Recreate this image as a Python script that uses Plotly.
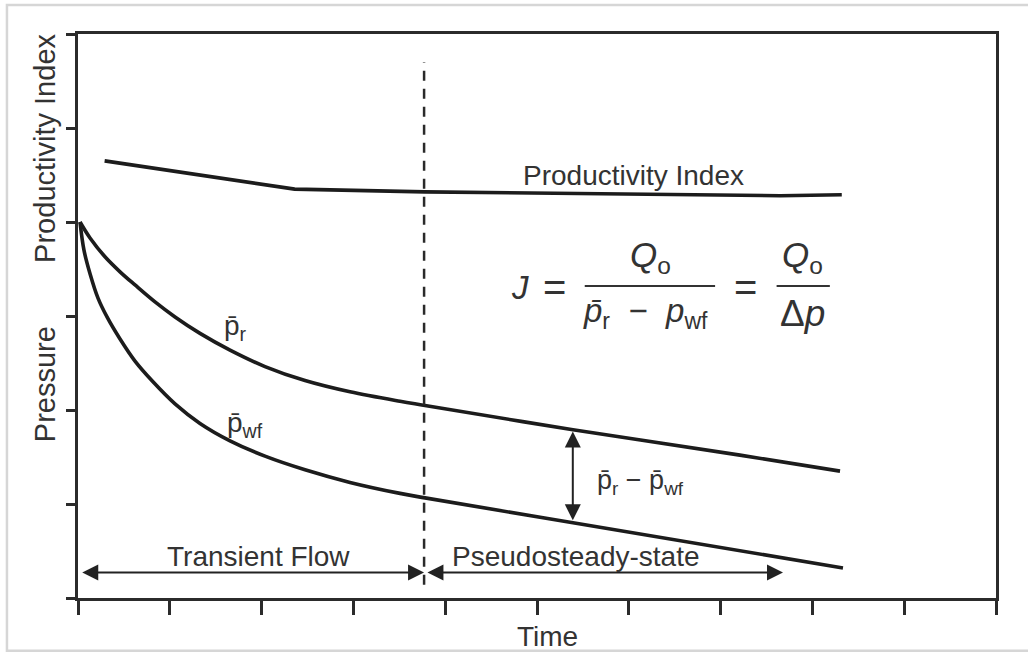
import plotly.graph_objects as go

# ---- data ----
pi_time = [0.29, 2.36, 3.78, 5.69, 7.65, 8.32]
pi_vals = [4.65, 4.35, 4.32, 4.30, 4.28, 4.29]

pr_time = [0.022, 0.131, 0.294, 0.458, 0.621, 0.839, 1.057, 1.329, 1.656, 2.037,
           2.473, 2.963, 3.508, 3.780, 5.392, 7.211, 8.301]
pr_vals = [4.00, 3.83, 3.63, 3.47, 3.33, 3.15, 2.99, 2.815, 2.637, 2.462,
           2.313, 2.193, 2.092, 2.048, 1.79, 1.52, 1.35]

pwf_time = [0.022, 0.065, 0.131, 0.218, 0.316, 0.458, 0.621, 0.817, 1.057, 1.329,
            1.656, 2.037, 2.473, 2.963, 3.508, 3.780, 5.392, 8.333]
pwf_vals = [4.00, 3.70, 3.45, 3.19, 2.99, 2.755, 2.52, 2.30, 2.065, 1.857,
            1.672, 1.509, 1.364, 1.230, 1.113, 1.065, 0.80, 0.32]

x_ticks = list(range(0, 11))
y_ticks = list(range(0, 7))

boundary_time = 3.77          # transient / pseudosteady-state boundary
dash_range = [0.14, 5.70]
transient_span = [0.03, 3.77]
pss_span = [3.79, 7.68]
flow_arrow_y = 0.27
dp_arrow_x = 5.39
dp_arrow_span = [0.81, 1.77]

INK = "#1c1c1c"
TXT = "#333333"
FONT = "Liberation Sans, Arial, sans-serif"

fig = go.Figure()
fig.add_trace(go.Scatter(x=pi_time, y=pi_vals, mode="lines",
                         line=dict(color=INK, width=3.6), hoverinfo="skip"))
fig.add_trace(go.Scatter(x=pr_time, y=pr_vals, mode="lines",
                         line=dict(color=INK, width=3.6, shape="spline", smoothing=1.0),
                         hoverinfo="skip"))
fig.add_trace(go.Scatter(x=pwf_time, y=pwf_vals, mode="lines",
                         line=dict(color=INK, width=3.6, shape="spline", smoothing=1.0),
                         hoverinfo="skip"))

shapes = []
# dashed boundary
shapes.append(dict(type="line", xref="x", yref="y", x0=boundary_time, x1=boundary_time,
                   y0=dash_range[0], y1=dash_range[1],
                   line=dict(color="#2a2a2a", width=2.5, dash="10px,8px")))
# fraction bars of the formula
shapes.append(dict(type="line", xref="x", yref="y", x0=5.52, x1=6.94, y0=3.32, y1=3.32,
                   line=dict(color="#333", width=2)))
shapes.append(dict(type="line", xref="x", yref="y", x0=7.61, x1=8.19, y0=3.32, y1=3.32,
                   line=dict(color="#333", width=2)))
# light outer frame of the picture
shapes.append(dict(type="rect", xref="paper", yref="paper",
                   x0=-0.0774, x1=1.05, y0=-0.0935, y1=1.0514,
                   line=dict(color="#d6d6d6", width=2.5), layer="below"))

annotations = []

def arrow(x0, y0, x1, y1):
    annotations.append(dict(x=x1, y=y1, ax=x0, ay=y0, xref="x", yref="y",
                            axref="x", ayref="y", text="", showarrow=True,
                            arrowhead=2, arrowside="end+start", arrowsize=1.6,
                            arrowwidth=2, arrowcolor="#222", standoff=0, startstandoff=0))

arrow(transient_span[0], flow_arrow_y, transient_span[1], flow_arrow_y)
arrow(pss_span[0], flow_arrow_y, pss_span[1], flow_arrow_y)
arrow(dp_arrow_x, dp_arrow_span[0], dp_arrow_x, dp_arrow_span[1])

def label(x, y, text, size=28, xref="x", yref="y", angle=0, xanchor="center", yanchor="middle"):
    annotations.append(dict(x=x, y=y, xref=xref, yref=yref, text=text, showarrow=False,
                            textangle=angle, xanchor=xanchor, yanchor=yanchor,
                            font=dict(family=FONT, size=size, color=TXT)))

label(1.97, 0.44, "Transient Flow")
label(5.43, 0.44, "Pseudosteady-state")
label(6.05, 4.49, "Productivity Index", size=28)
label(1.72, 2.88, "p̄<sub>r</sub>", size=28)
label(1.82, 1.85, "p̄<sub>wf</sub>", size=28)
label(6.13, 1.23, "p̄<sub>r</sub> − p̄<sub>wf</sub>", size=27)

# formula J = Qo / (p̄r - pwf) = Qo / Δp
label(4.81, 3.30, "<i>J</i>", size=33)
label(5.19, 3.31, "=", size=40)
label(6.24, 3.63, "<i>Q</i><sub>o</sub>", size=35)
label(6.18, 3.03, "<i>p̄</i><sub>r</sub>&nbsp; − &nbsp;<i>p</i><sub>wf</sub>", size=33)
label(7.27, 3.31, "=", size=40)
label(7.89, 3.63, "<i>Q</i><sub>o</sub>", size=35)
label(7.89, 3.03, "Δ<i>p</i>", size=37)

# axis titles
label(-0.036, 0.798, "Productivity Index", size=29, xref="paper", yref="paper", angle=-90)
label(-0.036, 0.379, "Pressure", size=29, xref="paper", yref="paper", angle=-90)
label(5.11, -0.068, "Time", size=28, yref="paper")

axis_common = dict(showgrid=False, zeroline=False, showline=True, mirror=True,
                   linecolor="#2b2b2b", linewidth=3, ticks="outside",
                   tickcolor="#2b2b2b", tickwidth=2.5, showticklabels=False,
                   fixedrange=True)

fig.update_layout(
    width=1028, height=653,
    margin=dict(l=78, r=32, t=34, b=55),
    paper_bgcolor="white", plot_bgcolor="white",
    showlegend=False,
    xaxis=dict(range=[0, 10], tickvals=x_ticks, ticklen=14, **axis_common),
    yaxis=dict(range=[0, 6], tickvals=y_ticks, ticklen=9, **axis_common),
    shapes=shapes, annotations=annotations,
    font=dict(family=FONT, color=TXT, size=28),
)

fig.write_html("out.html")
